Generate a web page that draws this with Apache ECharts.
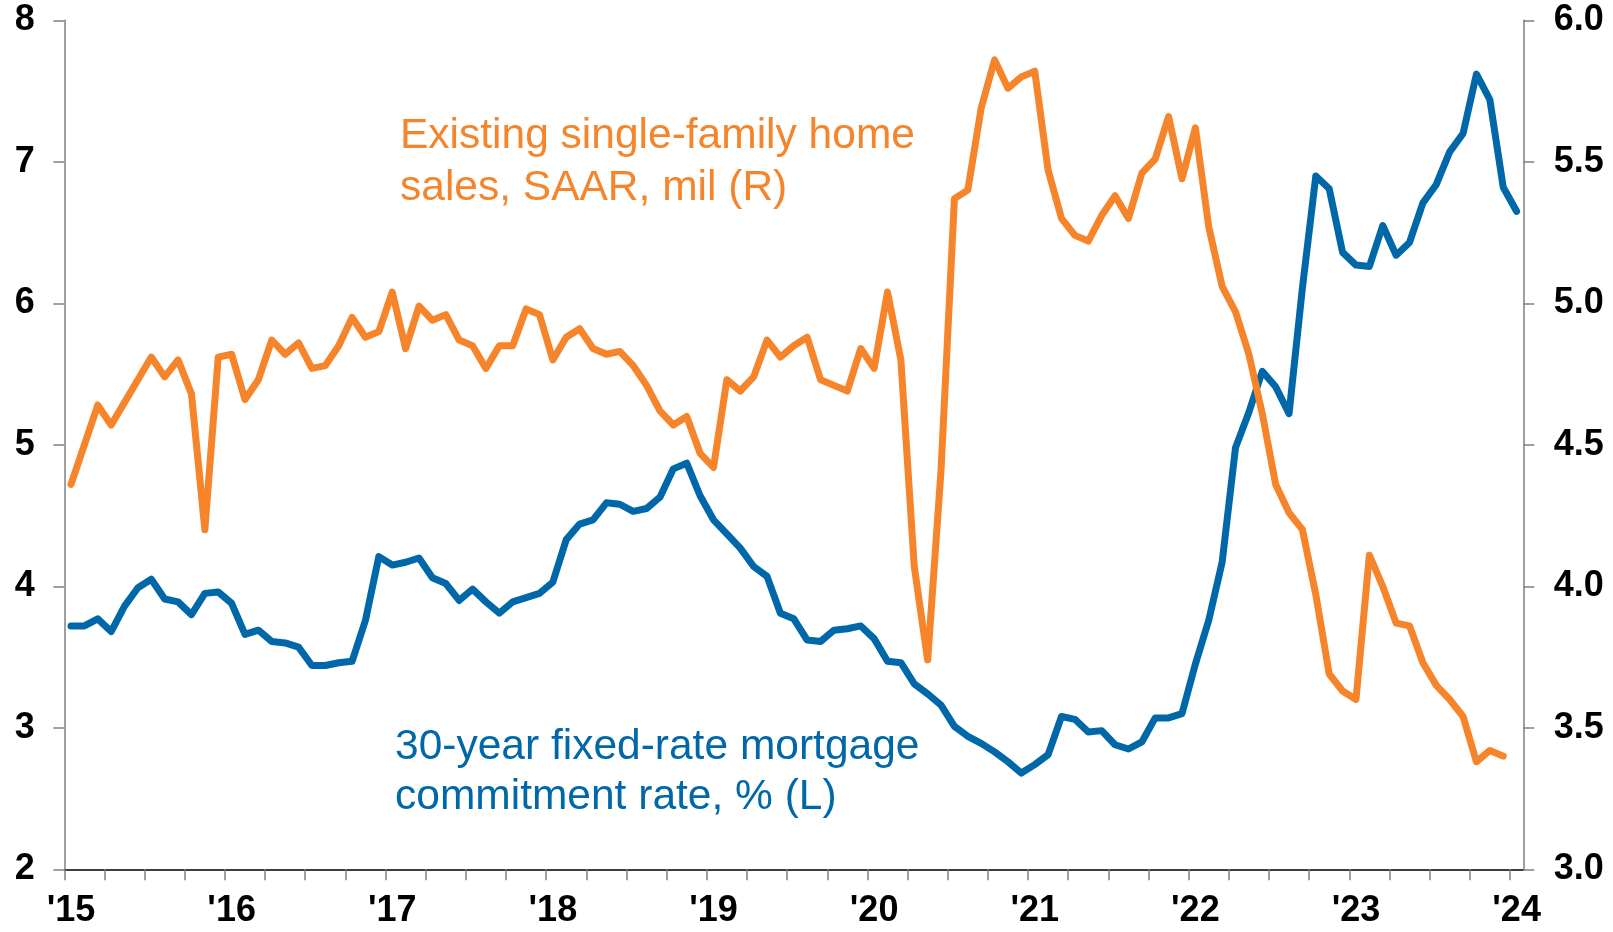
<!DOCTYPE html>
<html>
<head>
<meta charset="utf-8">
<script src="https://cdn.jsdelivr.net/npm/echarts@6/dist/echarts.min.js"></script>
<style>
html,body{margin:0;padding:0;background:#fff;}
#chart{width:1613px;height:932px;}
</style>
</head>
<body>
<div id="chart"></div>
<script>
// Monthly data, Jan 2015 .. Jan 2024 (index 0 = Jan 2015)
const yearLabels = ["'15","'16","'17","'18","'19","'20","'21","'22","'23","'24"];

// 30-year fixed-rate mortgage commitment rate, % (left axis), Jan 2015 - Jan 2024
const mortgageRate = [
  3.72, 3.72, 3.77, 3.68, 3.86, 3.99, 4.05, 3.91, 3.89, 3.80, 3.95, 3.96,
  3.88, 3.66, 3.69, 3.61, 3.60, 3.57, 3.44, 3.44, 3.46, 3.47, 3.76, 4.21,
  4.15, 4.17, 4.20, 4.06, 4.02, 3.90, 3.98, 3.89, 3.81, 3.89, 3.92, 3.95,
  4.03, 4.33, 4.44, 4.47, 4.59, 4.58, 4.53, 4.55, 4.63, 4.83, 4.87, 4.64,
  4.47, 4.37, 4.27, 4.14, 4.07, 3.81, 3.77, 3.62, 3.61, 3.69, 3.70, 3.72,
  3.63, 3.47, 3.46, 3.31, 3.24, 3.16, 3.01, 2.94, 2.89, 2.83, 2.76, 2.68,
  2.74, 2.81, 3.08, 3.06, 2.97, 2.98, 2.88, 2.85, 2.90, 3.07, 3.07, 3.10,
  3.45, 3.76, 4.17, 4.98, 5.23, 5.52, 5.41, 5.22, 6.11, 6.90, 6.81, 6.36,
  6.27, 6.26, 6.55, 6.34, 6.43, 6.71, 6.84, 7.07, 7.20, 7.62, 7.44, 6.82,
  6.65
];

// Existing single-family home sales, SAAR, mil (right axis), Jan 2015 - Dec 2023
const homeSales = [
  4.36, 4.50, 4.64, 4.57, 4.65, 4.73, 4.81, 4.74, 4.80, 4.68, 4.20, 4.81,
  4.82, 4.66, 4.73, 4.87, 4.82, 4.86, 4.77, 4.78, 4.85, 4.95, 4.88, 4.90,
  5.04, 4.84, 4.99, 4.94, 4.96, 4.87, 4.85, 4.77, 4.85, 4.85, 4.98, 4.96,
  4.80, 4.88, 4.91, 4.84, 4.82, 4.83, 4.78, 4.71, 4.62, 4.57, 4.60, 4.47,
  4.42, 4.73, 4.69, 4.74, 4.87, 4.81, 4.85, 4.88, 4.73, 4.71, 4.69, 4.84,
  4.77, 5.04, 4.80, 4.07, 3.74, 4.41, 5.37, 5.40, 5.69, 5.86, 5.76, 5.80,
  5.82, 5.47, 5.30, 5.24, 5.22, 5.31, 5.38, 5.30, 5.46, 5.51, 5.66, 5.44,
  5.62, 5.27, 5.06, 4.97, 4.82, 4.61, 4.36, 4.26, 4.20, 3.97, 3.69, 3.63,
  3.60, 4.11, 4.00, 3.87, 3.86, 3.73, 3.65, 3.60, 3.54, 3.38, 3.42, 3.40
];

const monthCount = mortgageRate.length; // 109 months on the axis

const quarterTicks = [];
for (let m = 0; m <= monthCount - 1; m += 3) quarterTicks.push(m);
const yearLabelPositions = yearLabels.map((_, k) => k * 12 + 0.5);

const blueColor = '#0068A9';
const orangeColor = '#F5842A';
const font = '"Liberation Sans", Arial, sans-serif';
const noteFont = '42.5px ' + font;

const chart = echarts.init(document.getElementById('chart'), null, {renderer: 'canvas'});
chart.setOption({
  animation: false,
  backgroundColor: '#ffffff',
  grid: {left: 64.3, right: 89.7, top: 20.3, bottom: 62.7, containLabel: false, outerBoundsMode: 'none'},
  xAxis: {
    type: 'value',
    min: 0,
    max: monthCount,
    splitLine: {show: false},
    axisLine: {show: true, lineStyle: {color: '#000000', width: 1.5}},
    axisTick: {show: true, customValues: quarterTicks, length: 11, inside: false,
      lineStyle: {color: '#808080', width: 1.5}},
    axisLabel: {
      customValues: yearLabelPositions,
      formatter: function (v) { return yearLabels[Math.round((v - 0.5) / 12)]; },
      fontFamily: font, fontWeight: 'bold', fontSize: 36, color: '#000000', margin: 24
    }
  },
  yAxis: [
    {
      type: 'value', min: 2, max: 8, interval: 1, position: 'left',
      splitLine: {show: false},
      axisLine: {show: true, lineStyle: {color: '#808080', width: 1.5}},
      axisTick: {show: true, length: 11, lineStyle: {color: '#808080', width: 1.5}},
      axisLabel: {fontFamily: font, fontWeight: 'bold', fontSize: 36, color: '#000000', margin: 29.5}
    },
    {
      type: 'value', min: 3, max: 6, interval: 0.5, position: 'right',
      splitLine: {show: false},
      axisLine: {show: true, lineStyle: {color: '#808080', width: 1.5}},
      axisTick: {show: true, length: 11, lineStyle: {color: '#808080', width: 1.5}},
      axisLabel: {fontFamily: font, fontWeight: 'bold', fontSize: 36, color: '#000000', margin: 30.5,
        formatter: function (v) { return v.toFixed(1); }}
    }
  ],
  series: [
    {
      name: '30-year fixed-rate mortgage commitment rate, % (L)',
      type: 'line', yAxisIndex: 0, showSymbol: false, symbol: 'none',
      lineStyle: {color: blueColor, width: 7, join: 'round', cap: 'round'},
      data: mortgageRate.map((v, i) => [i + 0.5, v])
    },
    {
      name: 'Existing single-family home sales, SAAR, mil (R)',
      type: 'line', yAxisIndex: 1, showSymbol: false, symbol: 'none',
      lineStyle: {color: orangeColor, width: 7, join: 'round', cap: 'round'},
      data: homeSales.map((v, i) => [i + 0.5, v])
    }
  ],
  graphic: [
    {type: 'text', left: 400, top: 115, style: {text: 'Existing single-family home', font: noteFont, fill: orangeColor}},
    {type: 'text', left: 400, top: 167, style: {text: 'sales, SAAR, mil (R)', font: noteFont, fill: orangeColor}},
    {type: 'text', left: 395, top: 726, style: {text: '30-year fixed-rate mortgage', font: noteFont, fill: blueColor}},
    {type: 'text', left: 395, top: 776, style: {text: 'commitment rate, % (L)', font: noteFont, fill: blueColor}}
  ]
});
</script>
</body>
</html>
